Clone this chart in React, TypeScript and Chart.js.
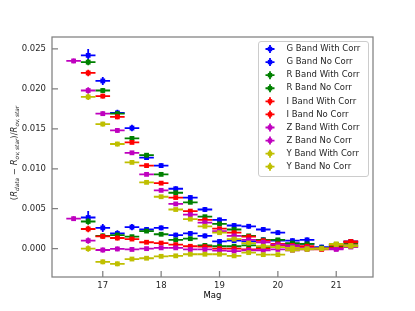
import { useEffect, useRef } from "react";
import { Chart, registerables } from "chart.js";

Chart.register(...registerables);

const mags = [16.5, 16.75, 17, 17.25, 17.5, 17.75, 18, 18.25, 18.5, 18.75, 19, 19.25, 19.5, 19.75, 20, 20.25, 20.5, 20.75, 21, 21.25];

const gWith = [null, 0.0039, 0.0026, 0.0019, 0.0027, 0.0024, 0.0026, 0.0017, 0.0019, 0.0016, 0.0009, 0.001, 0.0009, 0.0011, 0.001, 0.0006, 0.0006, 0.0000, 0.0005, 0.0008];
const gNo = [null, 0.0242, 0.021, 0.017, 0.0151, 0.0114, 0.0104, 0.0075, 0.0064, 0.0049, 0.0036, 0.0029, 0.0028, 0.0024, 0.002, 0.001, 0.0011, 0.0002, 0.0005, 0.0009];
const rWith = [null, 0.0034, 0.0016, 0.0017, 0.0015, 0.0022, 0.0018, 0.0011, 0.00125, 0.0004, 0.0003, 0.0003, 0.0004, 0.0002, 0.0004, 0.0003, 0.0002, 0.0000, 0.0003, 0.0003];
const rNo = [null, 0.02335, 0.0198, 0.0169, 0.0138, 0.0117, 0.0093, 0.007, 0.0058, 0.004, 0.0031, 0.0024, 0.0016, 0.0011, 0.0011, 0.0007, 0.0006, 0.0001, 0.0004, 0.0006];
const iWith = [null, 0.00246, 0.00154, 0.00133, 0.0012, 0.0008, 0.0007, 0.0005, 0.0003, 0.00025, 0.0000, 0.0000, -0.0001, 0.0000, 0.0004, 0.0001, 0.0000, -0.0001, 0.0001, 0.0008];
const iNo = [null, 0.022, 0.0191, 0.0165, 0.0133, 0.0104, 0.0082, 0.0064, 0.0047, 0.0036, 0.0025, 0.002, 0.0015, 0.001, 0.0006, 0.0004, 0.0003, 0.0000, 0.0004, 0.0009];
const zWith = [0.00375, 0.001, -0.00017, -0.00004, -0.0001, 0.0000, 0.0001, 0.0001, -0.0001, -0.0001, -0.00025, -0.0003, -0.0002, -0.0002, -0.0001, -0.0002, -0.0001, 0.0000, -0.0001, 0.0002];
const zNo = [0.0235, 0.0198, 0.0169, 0.0148, 0.012, 0.0093, 0.0073, 0.0056, 0.00425, 0.00325, 0.0022, 0.0016, 0.0011, 0.0008, 0.0005, 0.0003, 0.0001, 0.0000, 0.0000, 0.0004];
const yWith = [null, 0.0000, -0.00165, -0.0019, -0.0013, -0.0012, -0.00096, -0.0009, -0.0007, -0.0007, -0.0007, -0.0009, -0.0005, -0.00075, -0.00075, -0.0002, -0.0001, 0.0000, 0.0005, 0.0003];
const yNo = [null, 0.019, 0.0156, 0.0131, 0.0108, 0.0083, 0.0065, 0.0049, 0.0037, 0.0028, 0.002, 0.0012, 0.0007, 0.0003, 0.0002, 0.0001, 0.0000, 0.0000, 0.0006, 0.0004];

const gErr = [0, 0.0008, 0.0005, 0.0004, 0.0004, 0.0003, 0.0003, 0.0003, 0.0003, 0.0003, 0.0003, 0.0003, 0.0003, 0.0003, 0.0003, 0.0003, 0.0003, 0.0003, 0.0003, 0.0003];
const otherErr = [0.0003, 0.0004, 0.0003, 0.0003, 0.0002, 0.0002, 0.0002, 0.0002, 0.0002, 0.0002, 0.0002, 0.0002, 0.0002, 0.0002, 0.0002, 0.0002, 0.0002, 0.0002, 0.0002, 0.0002];
const magHalfBin = 0.125;

const seriesNames = [
  "G Band With Corr", "G Band No Corr",
  "R Band With Corr", "R Band No Corr",
  "I Band With Corr", "I Band No Corr",
  "Z Band With Corr", "Z Band No Corr",
  "Y Band With Corr", "Y Band No Corr",
];
const seriesValues = [gWith, gNo, rWith, rNo, iWith, iNo, zWith, zNo, yWith, yNo];
const seriesErrors = [gErr, gErr, otherErr, otherErr, otherErr, otherErr, otherErr, otherErr, otherErr, otherErr];
const seriesColors = ["#0000ff", "#0000ff", "#008000", "#008000", "#ff0000", "#ff0000", "#bf00bf", "#bf00bf", "#bfbf00", "#bfbf00"];

const xTicks = [17, 18, 19, 20, 21];
const yTicks = [0, 0.005, 0.01, 0.015, 0.02, 0.025];
const xTitle = "Mag";

const FONT = "'DejaVu Sans', sans-serif";
const SPINE = "#808080";
const TXT = "#262626";

const errorBarPlugin = {
  id: "errorBars",
  beforeDatasetDraw(chart: any, args: any) {
    const ds = chart.data.datasets[args.index];
    const xs = chart.scales.x;
    const ys = chart.scales.y;
    const ctx = chart.ctx;
    ctx.save();
    ctx.strokeStyle = ds.borderColor;
    ctx.lineWidth = 1.8;
    ds.data.forEach((p: any) => {
      const x0 = xs.getPixelForValue(p.x - p.xe);
      const x1 = xs.getPixelForValue(p.x + p.xe);
      const xc = xs.getPixelForValue(p.x);
      const y = ys.getPixelForValue(p.y);
      const y0 = ys.getPixelForValue(p.y - p.ye);
      const y1 = ys.getPixelForValue(p.y + p.ye);
      ctx.beginPath();
      ctx.moveTo(x0, y);
      ctx.lineTo(x1, y);
      ctx.moveTo(xc, y0);
      ctx.lineTo(xc, y1);
      ctx.stroke();
    });
    ctx.restore();
  },
};

const framePlugin = {
  id: "frame",
  afterDraw(chart: any) {
    const ctx = chart.ctx;
    const a = chart.chartArea;
    const xs = chart.scales.x;
    const ys = chart.scales.y;
    ctx.save();
    ctx.strokeStyle = SPINE;
    ctx.lineWidth = 1.25;
    ctx.strokeRect(a.left, a.top, a.right - a.left, a.bottom - a.top);
    ctx.beginPath();
    xTicks.forEach((t) => {
      const x = xs.getPixelForValue(t);
      ctx.moveTo(x, a.bottom);
      ctx.lineTo(x, a.bottom - 6);
    });
    yTicks.forEach((t) => {
      const y = ys.getPixelForValue(t);
      ctx.moveTo(a.left, y);
      ctx.lineTo(a.left + 6, y);
    });
    ctx.stroke();

    ctx.fillStyle = "#000";
    ctx.font = `8.5px ${FONT}`;
    ctx.textAlign = "center";
    ctx.textBaseline = "middle";
    ctx.fillText(xTitle, (a.left + a.right) / 2, 296);

    const segs = [
      { t: "(", it: false, sub: false },
      { t: "R", it: true, sub: false },
      { t: "data", it: true, sub: true },
      { t: " \u2212 ", it: false, sub: false },
      { t: "R", it: true, sub: false },
      { t: "ov,\u2009star", it: true, sub: true },
      { t: ")/", it: false, sub: false },
      { t: "R", it: true, sub: false },
      { t: "ov,\u2009star", it: true, sub: true },
    ];
    const fontOf = (s: any) => `${s.it ? "italic " : ""}${s.sub ? 5.8 : 8.5}px ${FONT}`;
    let total = 0;
    segs.forEach((s) => {
      ctx.font = fontOf(s);
      total += ctx.measureText(s.t).width;
    });
    ctx.translate(14, 153);
    ctx.rotate(-Math.PI / 2);
    ctx.textAlign = "left";
    ctx.textBaseline = "alphabetic";
    ctx.fillStyle = TXT;
    let cx = -total / 2;
    segs.forEach((s) => {
      ctx.font = fontOf(s);
      ctx.fillText(s.t, cx, s.sub ? 4.8 : 3);
      cx += ctx.measureText(s.t).width;
    });
    ctx.restore();

    ctx.save();
    const lx = 258, ly = 41, lw = 110, lh = 135;
    ctx.fillStyle = "rgba(255,255,255,0.8)";
    ctx.strokeStyle = "#cccccc";
    ctx.lineWidth = 1;
    ctx.beginPath();
    (ctx as any).roundRect(lx + 0.5, ly + 0.5, lw, lh, 2.5);
    ctx.fill();
    ctx.stroke();
    ctx.font = `8.5px ${FONT}`;
    ctx.textAlign = "left";
    ctx.textBaseline = "middle";
    seriesNames.forEach((name, i) => {
      const y = 49 + i * 13.08;
      const x = 270;
      ctx.strokeStyle = seriesColors[i];
      ctx.fillStyle = seriesColors[i];
      ctx.lineWidth = 1.8;
      ctx.beginPath();
      ctx.moveTo(x - 4.5, y);
      ctx.lineTo(x + 4.5, y);
      ctx.moveTo(x, y - 4);
      ctx.lineTo(x, y + 4);
      ctx.stroke();
      ctx.fillRect(x - 2.2, y - 2.2, 4.4, 4.4);
      ctx.fillStyle = TXT;
      ctx.fillText(name, 286.5, y);
    });
    ctx.restore();
  },
};

export default function App() {
  const ref = useRef<HTMLCanvasElement | null>(null);
  useEffect(() => {
    const canvas = ref.current;
    if (!canvas) return;
    const datasets = seriesValues.map((vals, i) => ({
      label: seriesNames[i],
      data: mags
        .map((m, k) => ({ x: m, y: vals[k], xe: magHalfBin, ye: seriesErrors[i][k] }))
        .filter((p) => p.y !== null),
      borderColor: seriesColors[i],
      backgroundColor: seriesColors[i],
      pointStyle: "rect",
      pointRadius: 3.4,
      pointBorderWidth: 0,
      showLine: false,
      order: 20 - i,
    }));
    const chart = new Chart(canvas, {
      type: "scatter",
      data: { datasets } as any,
      plugins: [errorBarPlugin, framePlugin],
      options: {
        responsive: false,
        animation: false,
        devicePixelRatio: 1,
        layout: { padding: { top: 37, right: 42, left: 0, bottom: 0 } },
        plugins: { legend: { display: false }, tooltip: { enabled: false } },
        scales: {
          x: {
            type: "linear",
            min: 16.13,
            max: 21.63,
            grid: { display: false, drawTicks: false },
            border: { display: false },
            afterFit: (s: any) => { s.height = 34; },
            afterBuildTicks: (s: any) => { s.ticks = xTicks.map((v) => ({ value: v })); },
            ticks: {
              padding: 4,
              color: TXT,
              font: { family: FONT, size: 8.5 },
              callback: (v: any) => String(v),
            },
          },
          y: {
            type: "linear",
            min: -0.00355,
            max: 0.0265,
            grid: { display: false, drawTicks: false },
            border: { display: false },
            afterFit: (s: any) => { s.width = 52; },
            afterBuildTicks: (s: any) => { s.ticks = yTicks.map((v) => ({ value: v })); },
            ticks: {
              padding: 6,
              color: TXT,
              font: { family: FONT, size: 8.5 },
              callback: (v: any) => Number(v).toFixed(3),
            },
          },
        },
      } as any,
    });
    return () => chart.destroy();
  }, []);
  return (
    <div style={{ position: "absolute", left: 0, top: 0, width: 415, height: 311, background: "#fff" }}>
      <canvas ref={ref} width={415} height={311} />
    </div>
  );
}
